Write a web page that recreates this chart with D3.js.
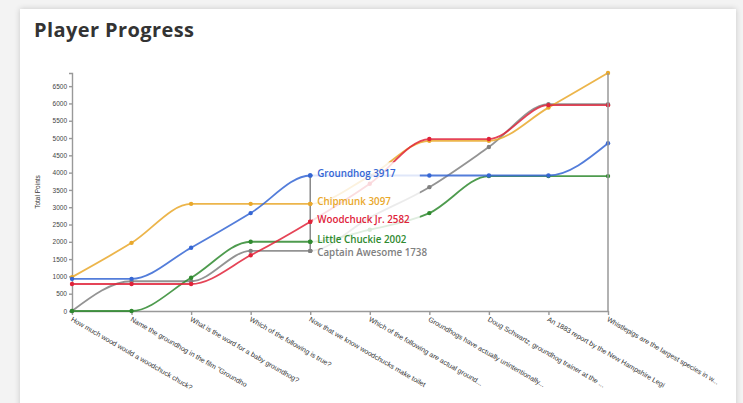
<!DOCTYPE html>
<html>
<head>
<meta charset="utf-8">
<script src="https://cdn.jsdelivr.net/npm/d3@7"></script>
<style>
  body { margin: 0; background: #f3f3f3; width: 743px; height: 403px; overflow: hidden; font-family: "Liberation Sans", Arial, sans-serif; }
  #card { position: absolute; left: 20px; top: 9px; width: 716px; height: 420px; background: #fff; box-shadow: 0 0 6px rgba(0,0,0,0.18); }
  #chart { position: absolute; left: 0; top: 0; }
  .axis path, .axis line { stroke: #999; stroke-width: 1.4; }
  .axis text { fill: #444; font-size: 6.5px; font-family: "Liberation Sans", Arial, sans-serif; }
  .title { font-family: "Open Sans", sans-serif; font-weight: 700; font-size: 20px; letter-spacing: 0.4px; fill: #333; }
  .player-label { font-family: "Open Sans", sans-serif; font-weight: 600; font-size: 9.8px; }
</style>
</head>
<body>
<div id="card"></div>
<div id="chart"></div>
<script>
// questions along the x axis (already truncated as shown)
var questions = [
  "How much wood would a woodchuck chuck?",
  "Name the groundhog in the film \"Groundho",
  "What is the word for a baby groundhog?",
  "Which of the following is true?",
  "Now that we know woodchucks make toilet",
  "Which of the following are actual ground...",
  "Groundhogs have actually unintentionally...",
  "Doug Schwartz, groundhog trainer at the ...",
  "An 1883 report by the New Hampshire Legi",
  "Whistlepigs are the largest species in w..."
];

var players = ["Captain Awesome", "Little Chuckie", "Chipmunk", "Woodchuck Jr.", "Groundhog"];
var playerColors = ["#808080", "#2f8a2f", "#e9a82b", "#e0233a", "#3566d4"];

// running total points after each question
var captainAwesome = [0, 860, 860, 1738, 1738, 2700, 3580, 4740, 5980, 5980];
var littleChuckie  = [0, 0, 960, 2002, 2002, 2350, 2830, 3900, 3900, 3900];
var chipmunk       = [980, 1970, 3097, 3097, 3097, 3900, 4920, 4920, 5880, 6880];
var woodchuckJr    = [780, 780, 780, 1610, 2582, 3680, 4970, 4970, 5950, 5950];
var groundhog      = [930, 930, 1830, 2830, 3917, 3917, 3917, 3917, 3917, 4850];

var yTicks = d3.range(0, 7000, 500);
var currentQ = 4; // question the labels are shown at

var series = [captainAwesome, littleChuckie, chipmunk, woodchuckJr, groundhog];

var margin = {top: 73, left: 72};
var width = 536, height = 238;

var svg = d3.select("#chart").append("svg")
    .attr("width", 743)
    .attr("height", 403);

svg.append("text")
    .attr("class", "title")
    .attr("x", 34)
    .attr("y", 37)
    .text("Player Progress");

var g = svg.append("g")
    .attr("transform", "translate(" + margin.left + "," + margin.top + ")");

var x = d3.scalePoint().domain(d3.range(questions.length)).range([0, width]);
var y = d3.scaleLinear()
    .domain([0, d3.max(series, function(s) { return d3.max(s); })])
    .range([height, 0]);

var yAxis = d3.axisLeft(y).tickValues(yTicks).tickFormat(d3.format("d"))
    .tickSize(3).tickSizeOuter(3).tickPadding(2);
var xAxis = d3.axisBottom(x).tickSize(4).tickSizeOuter(0).tickFormat(function(i) { return questions[i]; });

g.append("g")
    .attr("class", "axis axis--y")
    .call(yAxis);

g.append("g")
    .attr("class", "axis axis--x")
    .attr("transform", "translate(0," + height + ")")
    .call(xAxis)
  .selectAll("text")
    .attr("x", 3)
    .attr("y", 7)
    .attr("dy", ".35em")
    .attr("transform", "rotate(30)")
    .style("text-anchor", "start")
    .style("font-size", "7px")
    .style("fill", "#333");

g.append("text")
    .attr("transform", "rotate(-90)")
    .attr("x", -height / 2)
    .attr("y", -32)
    .style("text-anchor", "middle")
    .style("font-size", "6.5px")
    .style("fill", "#333")
    .text("Total Points");

var line = d3.line()
    .curve(d3.curveMonotoneX)
    .x(function(d, i) { return x(i); })
    .y(function(d) { return y(d); });

// lines
series.forEach(function(s, k) {
    g.append("path")
        .datum(s)
        .attr("fill", "none")
        .attr("stroke", playerColors[k])
        .attr("stroke-width", 1.8)
        .attr("stroke-opacity", 0.85)
        .attr("d", line);
});

// dots
series.forEach(function(s, k) {
    g.selectAll(".dot" + k)
        .data(s)
      .enter().append("circle")
        .attr("class", "dot" + k)
        .attr("cx", function(d, i) { return x(i); })
        .attr("cy", function(d) { return y(d); })
        .attr("r", 2.2)
        .attr("fill", playerColors[k]);
});

// backdrop behind the labels
var step = x.step();
g.append("rect")
    .attr("x", x(currentQ) + 2.5)
    .attr("y", y(4300))
    .attr("width", step * 1.84 - 2.5)
    .attr("height", y(1300) - y(4300))
    .attr("fill", "#fff")
    .attr("fill-opacity", 0.82);

// vertical guides
var atCurrent = series.map(function(s) { return s[currentQ]; });
g.append("line")
    .attr("x1", x(currentQ)).attr("x2", x(currentQ))
    .attr("y1", y(d3.min(atCurrent))).attr("y2", y(d3.max(atCurrent)))
    .attr("stroke", "#888").attr("stroke-width", 1.5);

var last = questions.length - 1;
g.append("line")
    .attr("x1", x(last)).attr("x2", x(last))
    .attr("y1", y(0)).attr("y2", y.range()[1])
    .attr("stroke", "#999").attr("stroke-width", 1.5);

// redraw the current dots above the guide
series.forEach(function(s, k) {
    g.append("circle")
        .attr("cx", x(currentQ))
        .attr("cy", y(s[currentQ]))
        .attr("r", 2.2)
        .attr("fill", playerColors[k]);
});

// labels, nudged apart so they don't collide
var labels = series.map(function(s, k) {
    return {k: k, text: players[k] + " " + s[currentQ], ly: y(s[currentQ]) - 2};
}).sort(function(a, b) { return a.ly - b.ly; });
for (var i = 1; i < labels.length; i++) {
    if (labels[i].ly - labels[i - 1].ly < 12.5) labels[i].ly = labels[i - 1].ly + 12.5;
}

g.selectAll(".player-label")
    .data(labels)
  .enter().append("text")
    .attr("class", "player-label")
    .attr("x", x(currentQ) + 7)
    .attr("y", function(d) { return d.ly; })
    .attr("dy", "0.35em")
    .attr("fill", function(d) { return playerColors[d.k]; })
    .text(function(d) { return d.text; });
</script>
</body>
</html>
